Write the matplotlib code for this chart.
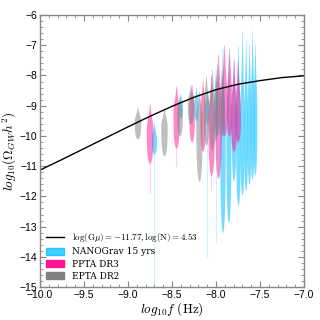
import numpy as np
import matplotlib.pyplot as plt
from matplotlib.patches import Patch
from matplotlib.lines import Line2D
from matplotlib.ticker import MultipleLocator

plt.rcParams['mathtext.fontset'] = 'cm'

# cosmic string spectrum
curve_logf = [-10.0, -9.75, -9.5, -9.25, -9.0, -8.75, -8.5, -8.25, -8.0, -7.75, -7.5, -7.25, -7.0]
curve_logO = [-11.13, -10.78, -10.42, -10.06, -9.70, -9.35, -9.02, -8.72, -8.47, -8.29, -8.17, -8.07, -8.01]

# NANOGrav 15 yrs free spectrum violins
nano_logf = [-8.704, -8.403, -8.227, -8.102, -8.005, -7.926, -7.859, -7.801, -7.750, -7.704, -7.663, -7.625, -7.590, -7.558]
nano_top = [-9.55, -8.6, -8.4, -8.5, -7.8, -7.1, -7.3, -7.4, -7.0, -6.5, -6.8, -6.9, -6.5, -6.9]
nano_peak = [-10.1, -9.0, -8.9, -9.0, -8.9, -10.0, -10.0, -9.6, -9.8, -9.6, -9.5, -9.4, -9.3, -9.2]
nano_bot = [-10.6, -9.4, -9.5, -9.6, -10.2, -13.2, -12.85, -11.5, -12.3, -11.95, -11.8, -11.6, -11.45, -11.3]
nano_tail = [-14.9, None, None, -14.0, -13.5, None, None, None, None, None, None, None, None, None]
nano_hw = [0.028, 0.022, 0.022, 0.022, 0.022, 0.03, 0.028, 0.024, 0.026, 0.024, 0.022, 0.022, 0.022, 0.022]

# PPTA DR3
ppta_logf = [-8.754, -8.453, -8.277, -8.152, -8.055, -7.976, -7.909, -7.851, -7.800, -7.754]
ppta_top = [-8.95, -8.35, -8.3, -8.15, -8.0, -7.3, -7.0, -7.1, -7.5, -7.5]
ppta_peak = [-9.8, -9.2, -9.1, -9.2, -9.5, -9.2, -8.9, -8.9, -9.3, -9.2]
ppta_bot = [-10.9, -10.4, -10.2, -10.5, -11.3, -11.4, -10.0, -10.0, -10.5, -10.2]
ppta_tail = [-11.9, -11.0, None, None, -11.8, None, None, None, None, None]
ppta_hw = [0.038, 0.036, 0.032, 0.032, 0.036, 0.036, 0.036, 0.032, 0.036, 0.032]

# EPTA DR2
epta_logf = [-8.892, -8.591, -8.415, -8.290, -8.193, -8.114, -8.047, -7.989, -7.938]
epta_top = [-9.05, -9.1, -8.65, -8.3, -8.5, -8.0, -7.8, -7.6, -7.8]
epta_peak = [-9.5, -9.65, -9.2, -8.9, -9.4, -9.0, -9.0, -8.9, -9.0]
epta_bot = [-10.1, -10.65, -10.0, -9.6, -11.5, -10.3, -10.5, -10.0, -10.0]
epta_hw = [0.036, 0.036, 0.032, 0.036, 0.036, 0.032, 0.032, 0.032, 0.032]

c_nano = '#00bfff'
c_ppta = '#ff1493'
c_epta = '#808080'


def violin(ax, x, top, peak, bot, hw, color, alpha, tail=None):
    y = np.linspace(bot, top, 400)
    up = np.clip((y - peak) / (top - peak), 0, 1)
    dn = np.clip((peak - y) / (peak - bot), 0, 1)
    w = np.where(y >= peak, hw * np.exp(-0.5 * (2.2 * up) ** 2), hw * np.sqrt(1 - dn ** 3))
    ax.fill_betweenx(y, x - w, x + w, color=color, alpha=alpha, lw=0)
    if tail is not None:
        ax.plot([x, x], [tail, bot], color=color, alpha=0.2, lw=0.8)


fig = plt.figure(figsize=(3.2, 3.2), dpi=100)
ax = fig.add_axes([0.125, 0.103, 0.825, 0.85])

for i in range(len(nano_logf)):
    violin(ax, nano_logf[i], nano_top[i], nano_peak[i], nano_bot[i], nano_hw[i], c_nano, 0.55, nano_tail[i])
for i in range(len(ppta_logf)):
    violin(ax, ppta_logf[i], ppta_top[i], ppta_peak[i], ppta_bot[i], ppta_hw[i], c_ppta, 0.5, ppta_tail[i])
for i in range(len(epta_logf)):
    violin(ax, epta_logf[i], epta_top[i], epta_peak[i], epta_bot[i], epta_hw[i], c_epta, 0.5)

ax.plot(curve_logf, curve_logO, color='black', lw=1.0)

ax.set_xlim(-10, -7)
ax.set_ylim(-15, -6)
ax.xaxis.set_major_locator(MultipleLocator(0.5))
ax.xaxis.set_minor_locator(MultipleLocator(0.1))
ax.yaxis.set_major_locator(MultipleLocator(1))
ax.yaxis.set_minor_locator(MultipleLocator(0.2))
ax.tick_params(which='both', direction='in', top=True, right=True, color='#888888', labelsize=7.5, pad=2)
ax.tick_params(which='major', length=4)
ax.tick_params(which='minor', length=2)
for lab in ax.get_xticklabels() + ax.get_yticklabels():
    lab.set_family('Liberation Sans')
for s in ax.spines.values():
    s.set_color('#888888')
    s.set_linewidth(1.0)

ax.set_xlabel(r'$log_{10}f\ \mathrm{(Hz)}$', fontsize=9.5)
ax.set_ylabel(r'$log_{10}(\Omega_{GW}h^2)$', fontsize=9.5)
ax.xaxis.set_label_coords(0.5, -0.05)
ax.yaxis.set_label_coords(-0.08, 0.5)

handles = [
    Line2D([], [], color='black', lw=1.0),
    Patch(color=c_nano, alpha=0.75),
    Patch(color=c_ppta),
    Patch(color=c_epta),
]
labels = [
    r'$\log(\mathrm{G}\mu) = -11.77, \log(\mathrm{N}) = 4.53$',
    'NANOGrav 15 yrs',
    'PPTA DR3',
    'EPTA DR2',
]
ax.legend(handles, labels, loc='lower left', frameon=False,
          prop={'family': 'serif', 'size': 6.5},
          handlelength=2.0, handleheight=0.9, labelspacing=0.35, borderaxespad=0.3)

fig.savefig('out.png', dpi=100)
